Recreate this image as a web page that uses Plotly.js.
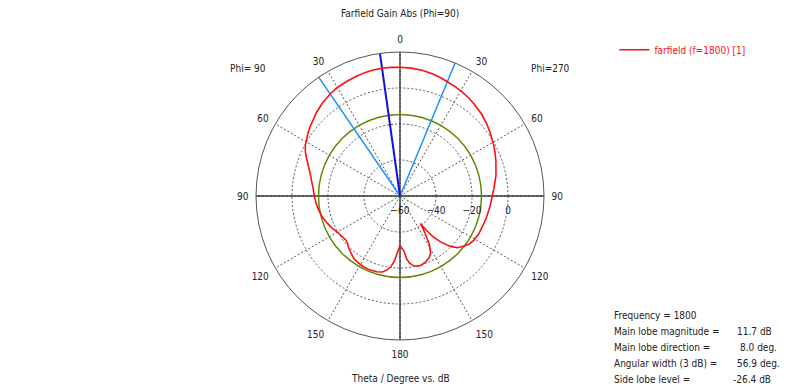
<!DOCTYPE html>
<html>
<head>
<meta charset="utf-8">
<script src="https://cdn.plot.ly/plotly-3.0.1.min.js"></script>
<style>
  html, body { margin: 0; padding: 0; background: #ffffff; }
  #chart { width: 800px; height: 391px; }
</style>
</head>
<body>
<div id="chart"></div>
<script>
// ---- Data (theta measured from the top, positive toward the Phi=90 side) ----
const thetaDeg = [0, 4, 8, 12, 16, 20, 25, 30, 34.4, 40, 45, 48, 52, 56, 60, 62, 65, 68, 72, 77, 82, 86, 90,
  95, 100, 105, 110, 115, 120, 125, 129, 132, 135, 138.5, 143, 147, 152, 158, 163, 167, 170, 172.5, 175, 177, 180,
  182, 184, 186, 188, 191, 194, 197, 201, 205, 208, 211, 213, 215, 216.6, 217.5, 219, 221.4, 225, 228, 232, 235,
  239, 244, 249, 255, 261, 266, 270, 274, 282, 290, 295, 298.4, 301, 305, 310, 315, 321, 325, 329, 333, 337.5, 341, 345,
  350, 355, 360];
const gainDb = [11.5, 11.65, 11.7, 11.6, 11.3, 10.8, 10.2, 9.6, 8.7, 7.2, 5.6, 4.4, 3.2, 1.8, 0.2, -0.4, -2.0, -4.0, -6.5, -9.0, -10.7, -11.8, -12.3,
  -13.2, -14.2, -15.3, -16.7, -18.2, -19.8, -20.8, -21.2, -20.8, -19.5, -18.5, -17.0, -16.3, -15.8, -15.6, -16.0, -16.7, -18.3, -20.2, -23.5, -28.0, -32.5,
  -31.0, -29.5, -25.0, -22.5, -20.5, -19.8, -19.8, -20.7, -22.0, -23.8, -28.0, -33.0, -37.5, -41.0, -36.0, -31.0, -26.0, -20.4, -17.0, -14.9, -13.3,
  -12.2, -11.5, -11.2, -10.6, -10.0, -9.3, -8.8, -7.8, -5.5, -3.3, -1.8, -0.8, -0.2, 1.2, 2.7, 4.2, 5.6, 6.5, 7.3, 8.0, 8.7, 9.5, 10.2,
  10.9, 11.3, 11.5];

const seriesName = "farfield (f=1800) [1]";
const mainLobeDir = 8.0;          // deg
const beamEdges = [34.4, 337.5];  // -3 dB directions (width 56.9 deg)
const sideLobeThreshold = -14.7;  // main lobe 11.7 dB + side lobe level -26.4 dB
const circleTheta = [0, 15, 30, 45, 60, 75, 90, 105, 120, 135, 150, 165, 180, 195, 210, 225, 240, 255, 270, 285, 300, 315, 330, 345, 360];

const angTickVals = [0, 30, 60, 90, 120, 150, 180, 210, 240, 270, 300, 330];
const angTickText = ["0", "30", "60", "90", "120", "150", "180", "150", "120", "90", "60", "30"];
const radTickVals = [-60, -40, -20, 0];
const radRange = [-60, 20];

const infoLabels = ["Frequency = 1800", "Main lobe magnitude =", "Main lobe direction =", "Angular width (3 dB) =", "Side lobe level ="];
const infoValues = ["", "11.7 dB", "8.0 deg.", "56.9 deg.", "-26.4 dB"];

const FONT = "DejaVu Sans Condensed, Liberation Sans, Arial, sans-serif";
const FS = 10;

// ---- Traces ----
const traces = [];
// solid axis lines through the centre (0-180 and 90-270)
traces.push({type: "scatterpolar", mode: "lines", r: [radRange[1], radRange[1]], theta: [0, 180],
  line: {color: "#3a3a3a", width: 1.4}, showlegend: false, hoverinfo: "skip"});
traces.push({type: "scatterpolar", mode: "lines", r: [radRange[1], radRange[1]], theta: [90, 270],
  line: {color: "#3a3a3a", width: 1.4}, showlegend: false, hoverinfo: "skip"});
// side lobe threshold circle
traces.push({type: "scatterpolar", mode: "lines", r: circleTheta.map(() => sideLobeThreshold), theta: circleTheta,
  line: {color: "#5f8a00", width: 1.5, shape: "spline"}, showlegend: false, hoverinfo: "skip"});
// 3 dB beam edges
beamEdges.forEach(t => traces.push({type: "scatterpolar", mode: "lines", r: [radRange[0], radRange[1]], theta: [t, t],
  line: {color: "#1f8fff", width: 1.5}, showlegend: false, hoverinfo: "skip"}));
// main lobe direction
traces.push({type: "scatterpolar", mode: "lines", r: [radRange[0], radRange[1]], theta: [mainLobeDir, mainLobeDir],
  line: {color: "#1010e0", width: 2}, showlegend: false, hoverinfo: "skip"});
// the farfield cut
traces.push({type: "scatterpolar", mode: "lines", r: gainDb, theta: thetaDeg, name: seriesName,
  line: {color: "#ff1010", width: 1.6}, showlegend: true});

// ---- Annotations ----
const ann = [
  {text: "Farfield Gain Abs (Phi=90)", x: 400, y: 14},
  {text: "Phi= 90", x: 248, y: 68},
  {text: "Phi=270", x: 550, y: 68},
  {text: "Theta / Degree vs. dB", x: 400, y: 378}
].map(a => ({text: a.text, xref: "paper", yref: "paper", x: a.x / 800, y: 1 - a.y / 391,
  xanchor: "center", yanchor: "middle", showarrow: false, font: {family: FONT, size: FS, color: "#222222"}}));

const infoY = [315, 331, 347, 363, 379];
infoLabels.forEach((t, i) => ann.push({text: t, xref: "paper", yref: "paper", x: 612 / 800, y: 1 - infoY[i] / 391,
  xanchor: "left", yanchor: "middle", showarrow: false, font: {family: FONT, size: FS, color: "#222222"}}));
const valX = [0, 735, 738, 735, 731];
infoValues.forEach((t, i) => { if (t) ann.push({text: t, xref: "paper", yref: "paper", x: valX[i] / 800, y: 1 - infoY[i] / 391,
  xanchor: "left", yanchor: "middle", showarrow: false, font: {family: FONT, size: FS, color: "#222222"}}); });

const layout = {
  width: 800, height: 391,
  margin: {l: 0, r: 0, t: 0, b: 0},
  paper_bgcolor: "#ffffff",
  font: {family: FONT, size: FS, color: "#222222"},
  hovermode: false,
  showlegend: true,
  annotations: ann,
  legend: {x: 0.768, y: 0.91, xanchor: "left", yanchor: "top", bgcolor: "rgba(0,0,0,0)",
    font: {family: FONT, size: FS, color: "#ff1010"}},
  polar: {
    domain: {x: [(400 - 144) / 800, (400 + 144) / 800], y: [(195 - 144) / 391, (195 + 144) / 391]},
    bgcolor: "#ffffff",
    angularaxis: {rotation: 90, direction: "counterclockwise", tickmode: "array", tickvals: angTickVals, ticktext: angTickText,
      ticks: "outside", ticklen: 5, tickcolor: "rgba(0,0,0,0)",
      showline: true, linecolor: "#555555", linewidth: 1, showgrid: true, gridcolor: "#555555", gridwidth: 1, griddash: "2px,2px",
      tickfont: {family: FONT, size: FS, color: "#222222"}},
    radialaxis: {range: radRange, tickmode: "array", tickvals: radTickVals, angle: 0, side: "clockwise",
      ticks: "outside", ticklen: 5, tickcolor: "rgba(0,0,0,0)",
      showline: false, showgrid: true, gridcolor: "#555555", gridwidth: 1, griddash: "2px,2px",
      tickfont: {family: FONT, size: FS, color: "#222222"}}
  }
};

Plotly.newPlot("chart", traces, layout, {displayModeBar: false, staticPlot: true});
</script>
</body>
</html>
